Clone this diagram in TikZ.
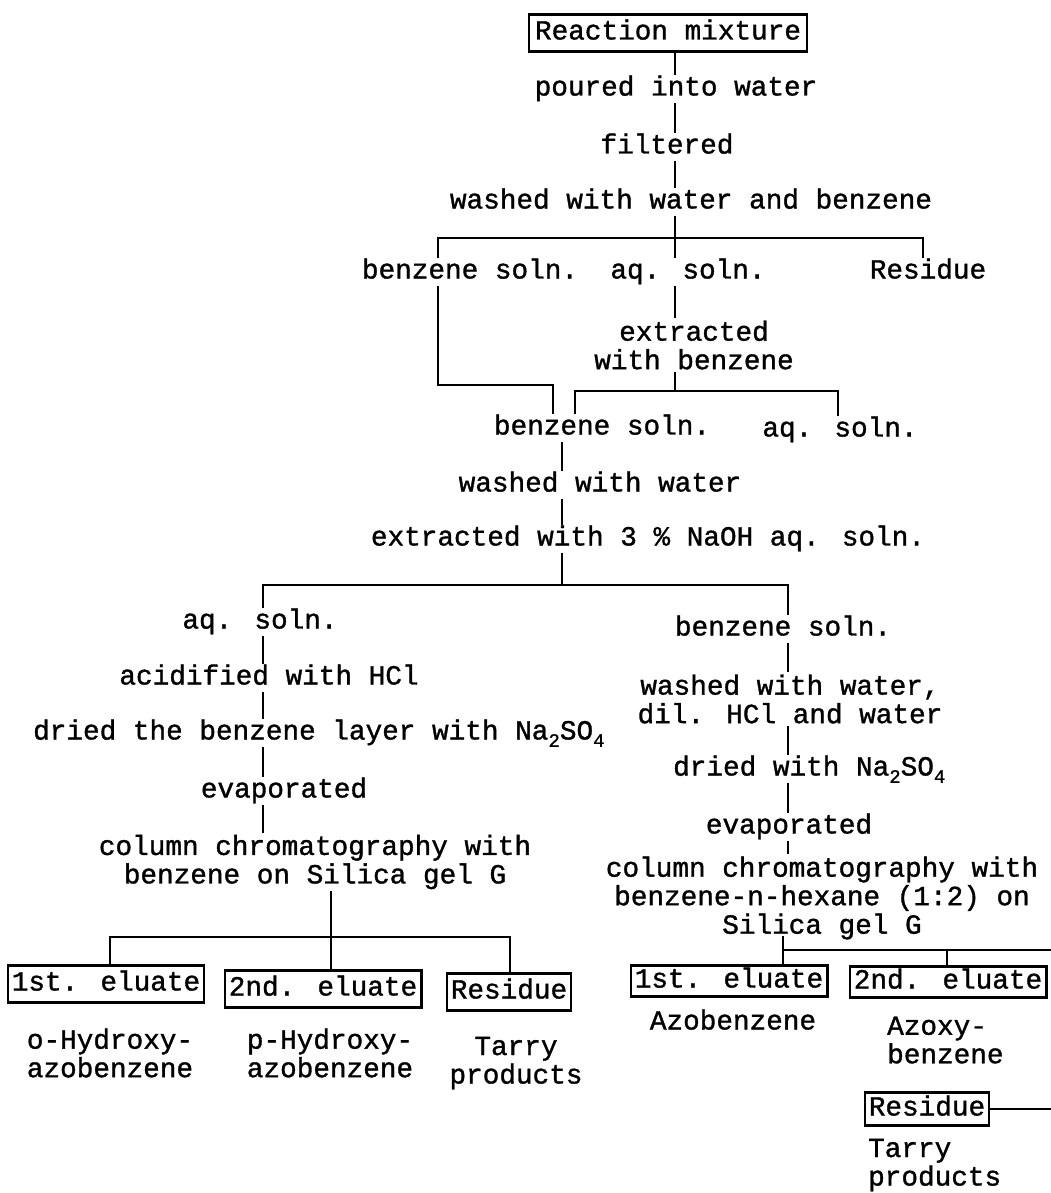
\documentclass[tikz,border=0pt]{standalone}
\usepackage{fontspec}
\setmainfont{Liberation Mono}[FakeBold=1.2]
\newcommand\chemsub[1]{\raisebox{-0.5ex}{\fontsize{19}{19}\selectfont #1}}
\begin{document}
\begin{tikzpicture}[x=1pt,y=-1pt,
  base/.style={font=\fontsize{27.7}{28.5}\selectfont, inner sep=2pt, align=center},
  lbl/.style={base, text height=18pt, text depth=5pt},
  ml/.style={base},
  bx/.style={lbl, draw, line width=2.6pt, inner xsep=4pt, inner ysep=7pt},
  con/.style={line width=2.5pt}]
\fill[white] (0,0) rectangle (1051,1193);
\useasboundingbox (0,0) rectangle (1051,1193);

% trunk x positions
\coordinate (cA) at (675,0);
\coordinate (xL1) at (438,0);
\coordinate (xR1) at (923,0);
\coordinate (xM2) at (553,0);
\coordinate (xa) at (575,0);
\coordinate (xb) at (838,0);
\coordinate (cC) at (562,0);
\coordinate (xL4) at (263,0);
\coordinate (xR4) at (788,0);
\coordinate (xL5a) at (110,0);
\coordinate (xL5b) at (331,0);
\coordinate (xL5c) at (510,0);
\coordinate (xR6a) at (783,0);
\coordinate (xR6b) at (947,0);
% bar heights
\coordinate (b1) at (0,238);
\coordinate (b2) at (0,385);
\coordinate (b3) at (0,391);
\coordinate (b4) at (0,585);
\coordinate (b5) at (0,937);
\coordinate (b6) at (0,950);
\coordinate (t6) at (783,936);
\coordinate (edge1) at (1051,950);
\coordinate (edge2) at (1051,1109);

% nodes
\node[bx, inner xsep=6pt] (rm) at (668,33) {Reaction mixture};
\node[lbl] (pour) at (676,89) {poured into water};
\node[lbl] (filt) at (667,147) {filtered};
\node[lbl] (wash1) at (691,202) {washed with water and benzene};
\node[lbl] (bs1) at (470,272) {benzene soln.};
\node[lbl] (aq1) at (688,272) {aq. soln.};
\node[lbl] (res1) at (928,272) {Residue};
\node[ml] (ext1) at (694,345) {extracted\\with benzene};
\node[lbl] (bs2) at (602,428) {benzene soln.};
\node[lbl] (aq2) at (840,430) {aq. soln.};
\node[lbl] (wash2) at (600,485) {washed with water};
\node[lbl] (naoh) at (648,539) {extracted with 3 \% NaOH aq. soln.};

\node[lbl] (aqL) at (260,622) {aq. soln.};
\node[lbl] (acid) at (269,678) {acidified with HCl};
\node[lbl, anchor=west] (dryL) at (31,733) {dried the benzene layer with Na\chemsub{2}SO\chemsub{4}};
\node[lbl] (evapL) at (284,791) {evaporated};
\node[ml] (colL) at (315,862) {column chromatography with\\benzene on Silica gel G};
\node[bx] (e1L) at (106,984) {1st. eluate};
\node[bx] (e2L) at (323,989) {2nd. eluate};
\node[bx] (rL) at (509,992) {Residue};
\node[ml] (pL1) at (110,1053) {o-Hydroxy-\\azobenzene};
\node[ml] (pL2) at (330,1053) {p-Hydroxy-\\azobenzene};
\node[ml] (pL3) at (516,1063) {Tarry\\products};

\node[lbl] (bsR) at (783,629) {benzene soln.};
\node[ml] (washR) at (790,699) {washed with water,\\dil. HCl and water};
\node[lbl, anchor=west] (dryR) at (671,769) {dried with Na\chemsub{2}SO\chemsub{4}};
\node[lbl] (evapR) at (789,827) {evaporated};
\node[ml] (colR) at (822,898) {column chromatography with\\benzene-n-hexane (1:2) on\\Silica gel G};
\node[bx, inner ysep=4pt] (e1R) at (729,981) {1st. eluate};
\node[bx, inner ysep=4pt] (e2R) at (948,982) {2nd. eluate};
\node[lbl] (azo) at (733,1023) {Azobenzene};
\node[ml, align=left, anchor=west] (azoxy) at (885,1040) {Azoxy-\\benzene};
\node[bx, inner ysep=5pt] (rR) at (927,1109) {Residue};
\node[ml, align=left, anchor=west] (tarR) at (866,1165) {Tarry\\products};

% connectors
\draw[con] (rm.south -| cA) -- (pour.north -| cA);
\draw[con] (pour.south -| cA) -- (filt.north -| cA);
\draw[con] (filt.south -| cA) -- (wash1.north -| cA);
\draw[con] (wash1.south -| cA) -- (aq1.north -| cA);
\draw[con] (bs1.north -| xL1) -- (xL1 |- b1) -- (xR1 |- b1) -- (res1.north -| xR1);
\draw[con] (bs1.south -| xL1) -- (xL1 |- b2) -- (xM2 |- b2) -- (bs2.north -| xM2);
\draw[con] (aq1.south -| cA) -- (ext1.north -| cA);
\draw[con] (ext1.south -| cA) -- (cA |- b3);
\draw[con] (bs2.north -| xa) -- (xa |- b3) -- (xb |- b3) -- (aq2.north -| xb);
\draw[con] (bs2.south -| cC) -- (wash2.north -| cC);
\draw[con] (wash2.south -| cC) -- (naoh.north -| cC);
\draw[con] (naoh.south -| cC) -- (cC |- b4);
\draw[con] (aqL.north -| xL4) -- (xL4 |- b4) -- (xR4 |- b4) -- (bsR.north -| xR4);

\draw[con] (aqL.south -| xL4) -- (acid.north -| xL4);
\draw[con] (acid.south -| xL4) -- (dryL.north -| xL4);
\draw[con] (dryL.south -| xL4) -- (evapL.north -| xL4);
\draw[con] (evapL.south -| xL4) -- (colL.north -| xL4);
\draw[con] (colL.south -| xL5b) -- (e2L.north -| xL5b);
\draw[con] (e1L.north -| xL5a) -- (xL5a |- b5) -- (xL5c |- b5) -- (rL.north -| xL5c);

\draw[con] (bsR.south -| xR4) -- (washR.north -| xR4);
\draw[con] (washR.south -| xR4) -- (dryR.north -| xR4);
\draw[con] (dryR.south -| xR4) -- (evapR.north -| xR4);
\draw[con] (evapR.south -| xR4) -- (colR.north -| xR4);
\draw[con] (t6) -- (e1R.north -| t6);
\draw[con] (xR6a |- b6) -- (edge1);
\draw[con] (xR6b |- b6) -- (e2R.north -| xR6b);
\draw[con] (rR.east) -- (edge2);
\end{tikzpicture}
\end{document}
